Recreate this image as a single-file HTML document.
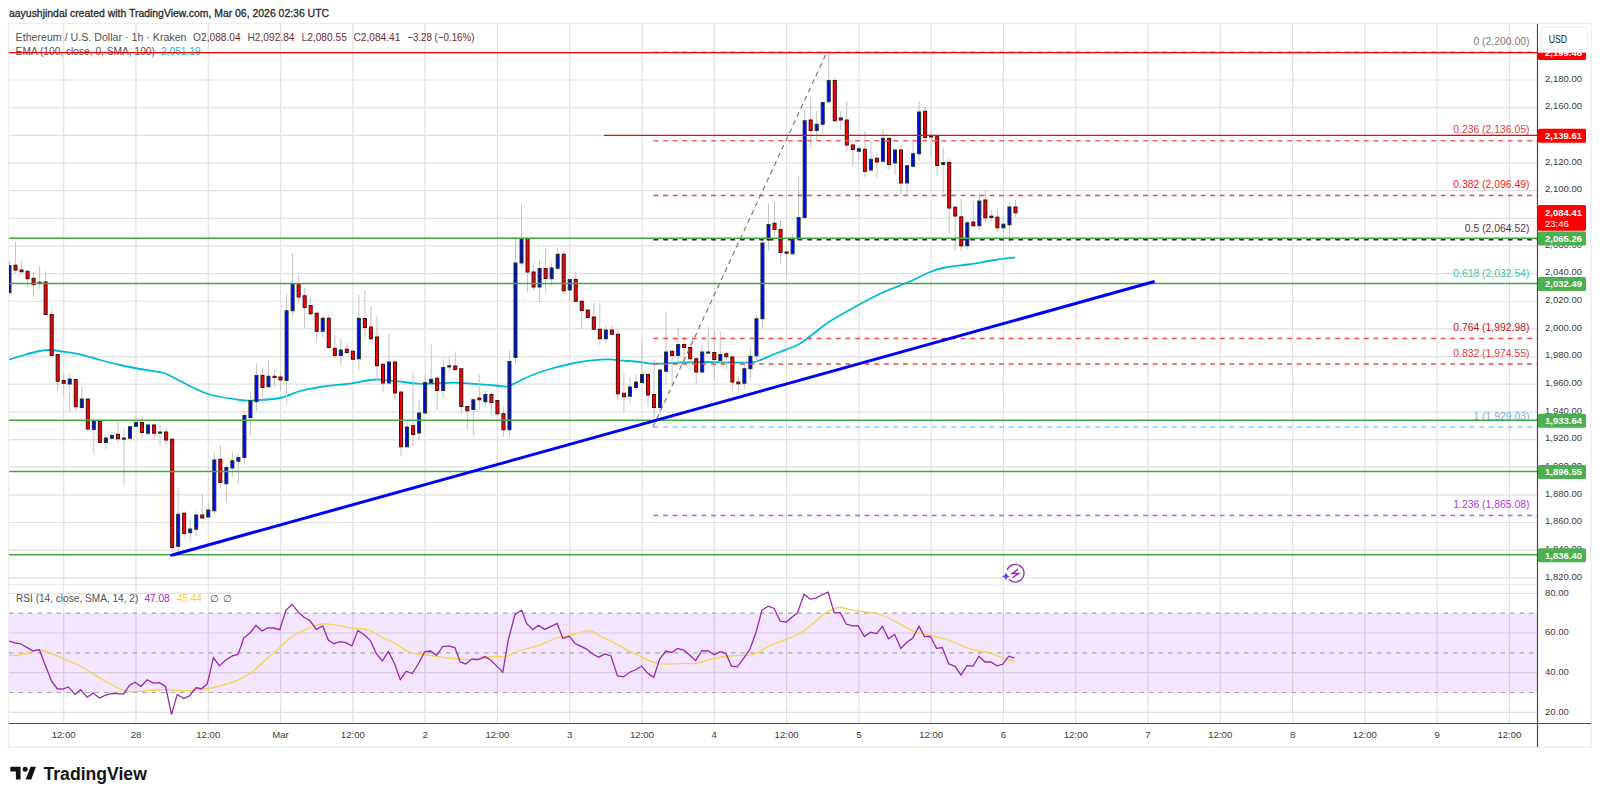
<!DOCTYPE html><html><head><meta charset="utf-8"><title>TradingView ETHUSD</title><style>html,body{margin:0;padding:0;background:#fff;width:1600px;height:800px;overflow:hidden}svg{display:block}text{font-family:"Liberation Sans",sans-serif}</style></head><body>
<svg width="1600" height="800" viewBox="0 0 1600 800">
<defs><clipPath id="cm"><rect x="9" y="24" width="1528.5" height="560"/></clipPath>
<clipPath id="cr"><rect x="9" y="584" width="1528.5" height="139.5"/></clipPath></defs>
<text x="9" y="17" font-size="10.45" fill="#2a2a2a" stroke="#2a2a2a" stroke-width="0.3">aayushjindal created with TradingView.com, Mar 06, 2026 02:36 UTC</text>
<rect x="8.5" y="23.5" width="1582.5" height="723.5" fill="#fff" stroke="#eeeeee" stroke-width="1.5"/>
<path d="M9 577.81H1537.5M9 550.15H1537.5M9 522.50H1537.5M9 494.84H1537.5M9 467.18H1537.5M9 439.53H1537.5M9 411.87H1537.5M9 384.22H1537.5M9 356.56H1537.5M9 328.90H1537.5M9 301.25H1537.5M9 273.59H1537.5M9 245.94H1537.5M9 218.28H1537.5M9 190.62H1537.5M9 162.97H1537.5M9 135.31H1537.5M9 107.66H1537.5M9 80.00H1537.5M9 52.34H1537.5M9 593.30H1537.5M9 633.00H1537.5M9 672.70H1537.5M9 712.40H1537.5M63.70 24V723.5M135.99 24V723.5M208.27 24V723.5M280.56 24V723.5M352.85 24V723.5M425.13 24V723.5M497.42 24V723.5M569.71 24V723.5M641.99 24V723.5M714.28 24V723.5M786.57 24V723.5M858.85 24V723.5M931.14 24V723.5M1003.43 24V723.5M1075.72 24V723.5M1148.00 24V723.5M1220.29 24V723.5M1292.58 24V723.5M1364.86 24V723.5M1437.15 24V723.5M1509.44 24V723.5" stroke="#e0e0e0" stroke-width="1.2" fill="none"/>
<path d="M9 584.7H1537.5" stroke="#e9ecf2" stroke-width="1.2"/>
<rect x="9" y="613.15" width="1528.5" height="79.40" fill="#9b2df5" fill-opacity="0.12"/>
<path d="M9 613.15H1537.5" stroke="#a8a8a8" stroke-width="1.1" stroke-dasharray="4.5 5"/>
<path d="M9 652.85H1537.5" stroke="#a8a8a8" stroke-width="1.1" stroke-dasharray="4.5 5"/>
<path d="M9 692.55H1537.5" stroke="#a8a8a8" stroke-width="1.1" stroke-dasharray="4.5 5"/>
<text y="40.6" font-size="10.2" fill="#505050"><tspan x="15.6" font-size="10.65">Ethereum / U.S. Dollar · 1h · Kraken</tspan><tspan x="193.1">O</tspan><tspan fill="#6e2a2a">2,088.04</tspan><tspan x="247.5">H</tspan><tspan fill="#6e2a2a">2,092.84</tspan><tspan x="301.5">L</tspan><tspan fill="#6e2a2a">2,080.55</tspan><tspan x="353.4">C</tspan><tspan fill="#6e2a2a">2,084.41</tspan><tspan x="407.25" fill="#6e2a2a" font-size="10.4" textLength="67.2" lengthAdjust="spacingAndGlyphs">−3.28 (−0.16%)</tspan></text>
<text x="15.6" y="55.2" font-size="10.2" fill="#505050">EMA (100, close, 0, SMA, 100) <tspan x="160.9" fill="#22b8d8">2,051.19</tspan></text>
<g clip-path="url(#cm)">
<path d="M9.00 359.60C11.50 358.83 18.83 356.43 24.00 355.00C29.17 353.57 35.67 351.83 40.00 351.00C44.33 350.17 45.67 349.83 50.00 350.00C54.33 350.17 61.00 351.27 66.00 352.00C71.00 352.73 74.33 353.07 80.00 354.40C85.67 355.73 93.33 358.23 100.00 360.00C106.67 361.77 113.33 363.50 120.00 365.00C126.67 366.50 132.67 367.67 140.00 369.00C147.33 370.33 157.33 371.00 164.00 373.00C170.67 375.00 172.67 377.50 180.00 381.00C187.33 384.50 198.00 390.83 208.00 394.00C218.00 397.17 232.33 398.93 240.00 400.00C247.67 401.07 247.33 400.73 254.00 400.40C260.67 400.07 272.33 399.57 280.00 398.00C287.67 396.43 293.33 392.83 300.00 391.00C306.67 389.17 315.00 387.90 320.00 387.00C325.00 386.10 325.00 386.17 330.00 385.60C335.00 385.03 343.33 384.53 350.00 383.60C356.67 382.67 365.00 380.67 370.00 380.00C375.00 379.33 375.33 379.37 380.00 379.60C384.67 379.83 391.67 380.73 398.00 381.40C404.33 382.07 412.00 383.23 418.00 383.60C424.00 383.97 428.00 383.77 434.00 383.60C440.00 383.43 448.00 382.60 454.00 382.60C460.00 382.60 464.00 383.20 470.00 383.60C476.00 384.00 484.33 384.53 490.00 385.00C495.67 385.47 500.67 386.30 504.00 386.40C507.33 386.50 505.67 387.33 510.00 385.60C514.33 383.87 523.33 378.77 530.00 376.00C536.67 373.23 543.33 371.00 550.00 369.00C556.67 367.00 563.33 365.40 570.00 364.00C576.67 362.60 583.33 361.37 590.00 360.60C596.67 359.83 605.00 359.43 610.00 359.40C615.00 359.37 615.00 359.97 620.00 360.40C625.00 360.83 634.17 361.44 640.00 362.00C645.83 362.56 647.92 363.67 655.00 363.75C662.08 363.83 673.75 362.79 682.50 362.50C691.25 362.21 699.17 362.00 707.50 362.00C715.83 362.00 725.42 362.42 732.50 362.50C739.58 362.58 745.83 362.71 750.00 362.50C754.17 362.29 753.33 362.71 757.50 361.25C761.67 359.79 768.33 356.46 775.00 353.75C781.67 351.04 791.67 347.92 797.50 345.00C803.33 342.08 804.58 340.21 810.00 336.25C815.42 332.29 822.08 326.38 830.00 321.25C837.92 316.12 848.75 310.29 857.50 305.50C866.25 300.71 874.17 296.33 882.50 292.50C890.83 288.67 899.58 285.92 907.50 282.50C915.42 279.08 923.75 274.50 930.00 272.00C936.25 269.50 938.33 268.79 945.00 267.50C951.67 266.21 961.67 265.50 970.00 264.25C978.33 263.00 987.50 261.12 995.00 260.00C1002.50 258.88 1011.67 257.92 1015.00 257.50" stroke="#00bcd4" stroke-width="1.8" fill="none"/>
<path d="M9.48 261V292.7M15.51 242V273M21.53 260.4V273M27.56 270V287.5M33.58 272.2V296.7M39.60 266V288.8M45.63 271.3V315M51.65 310V355.5M57.68 354.5V391M63.70 372.5V397.5M69.72 374V412M75.75 379.5V410M81.77 386V409M87.80 399V432M93.82 418.75V455M99.84 420V443.75M105.87 435V449.5M111.89 431V439M117.92 421V442.5M123.94 430V485M129.96 425.5V438.75M135.99 417.5V427.5M142.01 417V438.75M148.03 423.75V435M154.06 423.75V438.75M160.08 425V445M166.11 427.5V445.5M172.13 439.25V552.5M178.15 488.75V552.5M184.18 511.25V537.5M190.20 518.75V541.25M196.23 511.25V536.25M202.25 493.75V517.5M208.27 502.5V517.5M214.30 452.5V513.75M220.32 445V488.75M226.35 465V502.5M232.37 452.5V477.5M238.39 453.75V483.75M244.42 411.25V465M250.44 391.25V436.25M256.46 363.75V411.25M262.49 367.5V403.75M268.51 360V387.5M274.54 370V386.25M280.56 372.5V390M286.58 294.5V404.5M292.61 253V316.25M298.63 275V303.75M304.66 287.5V328.75M310.68 297.5V315M316.70 312.5V342.5M322.73 316.25V337.5M328.75 314.5V348.75M334.78 335V357.5M340.80 338.75V365M346.82 343V353.75M352.85 351.25V359.25M358.87 295V371.25M364.89 290V337.5M370.92 306.25V340M376.94 316.25V381.25M382.97 363.75V392.5M388.99 333.75V383.75M395.01 362V400M401.04 392V456.25M407.06 422.5V447.5M413.09 371.25V446.25M419.11 400.5V440M425.13 375V413.75M431.16 344.5V383.75M437.18 376.25V410M443.21 358.75V398.75M449.23 356.75V371.25M455.25 351.5V371M461.28 368.75V414.5M467.30 407V429.5M473.33 398V435.5M479.35 374V410M485.37 390.5V407M491.40 392V416.75M497.42 400.5V416M503.44 407V437M509.47 350V437M515.49 237.5V363.5M521.52 204.5V267.5M527.54 237.5V292.5M533.56 263V290.5M539.59 260V302M545.61 248V293M551.64 262.5V286.25M557.66 247.5V270M563.68 251.25V293.75M569.71 278.75V301.25M575.73 271.25V302.5M581.76 300V328.75M587.78 309.5V318.75M593.80 302.5V330M599.83 302.5V345M605.85 326.25V343.75M611.87 325V335M617.90 330V400M623.92 372.5V411.25M629.95 377.5V403.75M635.97 375V390M641.99 342.5V383.75M648.02 373.75V406.25M654.04 360V420M660.07 368.75V415M666.09 311.25V383.75M672.11 350V383.75M678.14 327.5V365M684.16 336.25V362.5M690.19 343.75V370M696.21 357.5V383.75M702.23 345V372.5M708.26 326.25V353.75M714.28 330V380M720.31 331.25V363.75M726.33 352.5V370M732.35 356.25V390M738.38 377.5V390M744.40 362.5V388.75M750.42 347.5V378.75M756.45 315V362.5M762.47 240V327.5M768.50 203.75V250M774.52 201.25V236.25M780.54 220V263.75M786.57 250V276.25M792.59 233.75V255M798.62 176.25V240M804.64 110V218.75M810.66 97.5V147.5M816.69 111.25V140M822.71 101.25V133.75M828.74 53.75V102.5M834.76 77.5V121.25M840.78 111.25V130M846.81 101.25V151.25M852.83 140V166.25M858.85 146.25V158.75M864.88 131.25V177.5M870.90 141.25V171.25M876.93 152.5V177.5M882.95 128.75V162.5M888.97 137.5V170M895.00 148.75V175M901.02 145V193.75M907.05 165V196.25M913.07 138.75V167.5M919.09 101.25V161.25M925.12 107.5V138.75M931.14 131.25V156.25M937.17 135V176.25M943.19 147.5V192.5M949.21 158.75V233.75M955.24 206.25V251M961.26 199V252M967.29 221V249M973.31 201V227.5M979.33 193V230M985.36 191V222M991.38 210V221M997.40 210V232M1003.43 216V232.5M1009.45 202.5V242M1015.48 200V217" stroke="#c4c4c4" stroke-width="1"/>
<g fill="#0000ff" stroke="#1d3d1d" stroke-width="1"><rect x="7.98" y="265.6" width="3" height="27.10"/><rect x="38.10" y="282.2" width="3" height="1.20"/><rect x="68.22" y="379" width="3" height="5.00"/><rect x="80.27" y="399" width="3" height="8.50"/><rect x="92.32" y="421.25" width="3" height="8.25"/><rect x="104.37" y="438" width="3" height="4.50"/><rect x="110.39" y="435.5" width="3" height="2.75"/><rect x="122.44" y="438" width="3" height="1.20"/><rect x="128.46" y="426.75" width="3" height="11.50"/><rect x="134.49" y="422.5" width="3" height="3.75"/><rect x="146.53" y="425" width="3" height="8.25"/><rect x="158.58" y="432" width="3" height="1.20"/><rect x="176.65" y="514.25" width="3" height="32.00"/><rect x="188.70" y="529" width="3" height="3.75"/><rect x="194.73" y="515" width="3" height="14.25"/><rect x="206.77" y="510" width="3" height="7.00"/><rect x="212.80" y="460" width="3" height="50.75"/><rect x="224.85" y="467.5" width="3" height="16.25"/><rect x="230.87" y="460.75" width="3" height="7.25"/><rect x="236.89" y="457.5" width="3" height="3.75"/><rect x="242.92" y="415.5" width="3" height="42.00"/><rect x="248.94" y="400.5" width="3" height="17.00"/><rect x="254.96" y="375.5" width="3" height="26.25"/><rect x="267.01" y="376.25" width="3" height="10.50"/><rect x="285.08" y="310.75" width="3" height="69.75"/><rect x="291.11" y="283.75" width="3" height="27.00"/><rect x="321.23" y="318.25" width="3" height="13.00"/><rect x="339.30" y="350" width="3" height="5.50"/><rect x="357.37" y="318.25" width="3" height="40.50"/><rect x="387.49" y="362" width="3" height="21.00"/><rect x="405.56" y="427" width="3" height="19.75"/><rect x="417.61" y="413" width="3" height="20.00"/><rect x="423.63" y="382.5" width="3" height="30.50"/><rect x="429.66" y="379.25" width="3" height="3.75"/><rect x="441.71" y="367.5" width="3" height="23.00"/><rect x="447.73" y="365.75" width="3" height="1.20"/><rect x="471.83" y="399.75" width="3" height="9.75"/><rect x="483.87" y="394.5" width="3" height="7.25"/><rect x="507.97" y="361.5" width="3" height="68.25"/><rect x="513.99" y="263" width="3" height="94.50"/><rect x="520.02" y="238.5" width="3" height="24.50"/><rect x="538.09" y="268.5" width="3" height="18.50"/><rect x="550.14" y="268" width="3" height="10.75"/><rect x="556.16" y="254.25" width="3" height="14.00"/><rect x="568.21" y="279.5" width="3" height="10.50"/><rect x="604.35" y="330" width="3" height="8.75"/><rect x="628.45" y="387" width="3" height="9.25"/><rect x="634.47" y="382" width="3" height="5.50"/><rect x="640.49" y="374.5" width="3" height="8.00"/><rect x="658.57" y="370" width="3" height="37.50"/><rect x="664.59" y="352" width="3" height="19.25"/><rect x="676.64" y="344.5" width="3" height="11.00"/><rect x="700.73" y="352" width="3" height="20.00"/><rect x="706.76" y="352" width="3" height="1.20"/><rect x="718.81" y="354.5" width="3" height="6.00"/><rect x="742.90" y="368.75" width="3" height="14.50"/><rect x="748.92" y="356.25" width="3" height="12.50"/><rect x="754.95" y="318.75" width="3" height="37.00"/><rect x="760.97" y="243" width="3" height="75.75"/><rect x="767.00" y="224.5" width="3" height="15.50"/><rect x="791.09" y="239.25" width="3" height="14.50"/><rect x="797.12" y="217.5" width="3" height="21.25"/><rect x="803.14" y="120.75" width="3" height="96.75"/><rect x="815.19" y="124.25" width="3" height="6.25"/><rect x="821.21" y="102.5" width="3" height="21.75"/><rect x="827.24" y="80.5" width="3" height="21.25"/><rect x="857.35" y="148.75" width="3" height="2.50"/><rect x="869.40" y="159.25" width="3" height="10.75"/><rect x="881.45" y="138.25" width="3" height="23.00"/><rect x="893.50" y="150" width="3" height="13.00"/><rect x="905.55" y="165.75" width="3" height="17.25"/><rect x="911.57" y="153.75" width="3" height="12.50"/><rect x="917.59" y="112" width="3" height="41.75"/><rect x="941.69" y="162.5" width="3" height="2.00"/><rect x="965.79" y="222.8" width="3" height="23.00"/><rect x="977.83" y="201" width="3" height="24.80"/><rect x="1001.93" y="224.2" width="3" height="3.60"/><rect x="1007.95" y="207" width="3" height="17.80"/></g>
<g fill="#ff0000" stroke="#4a0808" stroke-width="1"><rect x="14.01" y="265.2" width="3" height="4.80"/><rect x="20.03" y="270" width="3" height="1.70"/><rect x="26.06" y="271.3" width="3" height="7.40"/><rect x="32.08" y="278.3" width="3" height="6.40"/><rect x="44.13" y="282" width="3" height="32.50"/><rect x="50.15" y="314.5" width="3" height="41.00"/><rect x="56.18" y="354.5" width="3" height="26.75"/><rect x="62.20" y="380.5" width="3" height="2.75"/><rect x="74.25" y="379.5" width="3" height="27.25"/><rect x="86.30" y="399" width="3" height="30.00"/><rect x="98.34" y="421.25" width="3" height="21.25"/><rect x="116.42" y="434.25" width="3" height="4.50"/><rect x="140.51" y="422.5" width="3" height="10.00"/><rect x="152.56" y="425" width="3" height="8.25"/><rect x="164.61" y="432" width="3" height="8.00"/><rect x="170.63" y="439.25" width="3" height="108.25"/><rect x="182.68" y="513.25" width="3" height="20.25"/><rect x="200.75" y="515" width="3" height="3.00"/><rect x="218.82" y="459.25" width="3" height="23.25"/><rect x="260.99" y="375.5" width="3" height="12.00"/><rect x="273.04" y="376.25" width="3" height="1.20"/><rect x="279.06" y="377" width="3" height="3.00"/><rect x="297.13" y="283.75" width="3" height="13.25"/><rect x="303.16" y="295.75" width="3" height="11.75"/><rect x="309.18" y="305.5" width="3" height="8.25"/><rect x="315.20" y="313.25" width="3" height="18.00"/><rect x="327.25" y="318.25" width="3" height="29.25"/><rect x="333.28" y="348.25" width="3" height="7.25"/><rect x="345.32" y="349.25" width="3" height="3.25"/><rect x="351.35" y="351.25" width="3" height="8.00"/><rect x="363.39" y="318.5" width="3" height="9.00"/><rect x="369.42" y="327" width="3" height="11.75"/><rect x="375.44" y="337" width="3" height="28.75"/><rect x="381.47" y="364.25" width="3" height="18.75"/><rect x="393.51" y="362" width="3" height="31.00"/><rect x="399.54" y="392" width="3" height="54.75"/><rect x="411.59" y="425.75" width="3" height="8.75"/><rect x="435.68" y="378.25" width="3" height="12.25"/><rect x="453.75" y="366" width="3" height="3.50"/><rect x="459.78" y="368.75" width="3" height="37.75"/><rect x="465.80" y="406.5" width="3" height="4.25"/><rect x="477.85" y="398" width="3" height="1.75"/><rect x="489.90" y="394.5" width="3" height="8.00"/><rect x="495.92" y="400.5" width="3" height="13.25"/><rect x="501.94" y="413.75" width="3" height="16.00"/><rect x="526.04" y="238.5" width="3" height="33.50"/><rect x="532.06" y="272" width="3" height="15.00"/><rect x="544.11" y="268.5" width="3" height="10.00"/><rect x="562.18" y="254.25" width="3" height="36.50"/><rect x="574.23" y="279.5" width="3" height="21.75"/><rect x="580.26" y="301.25" width="3" height="9.25"/><rect x="586.28" y="310" width="3" height="7.50"/><rect x="592.30" y="317" width="3" height="12.25"/><rect x="598.33" y="329.25" width="3" height="9.50"/><rect x="610.37" y="330" width="3" height="4.25"/><rect x="616.40" y="334.25" width="3" height="59.50"/><rect x="622.42" y="393.25" width="3" height="3.50"/><rect x="646.52" y="374.5" width="3" height="20.50"/><rect x="652.54" y="394.5" width="3" height="13.00"/><rect x="670.61" y="351.25" width="3" height="4.25"/><rect x="682.66" y="344.5" width="3" height="3.00"/><rect x="688.69" y="347.5" width="3" height="11.25"/><rect x="694.71" y="358.75" width="3" height="13.25"/><rect x="712.78" y="352.5" width="3" height="7.00"/><rect x="724.83" y="353.75" width="3" height="3.00"/><rect x="730.85" y="357" width="3" height="25.00"/><rect x="736.88" y="382" width="3" height="1.75"/><rect x="773.02" y="223.25" width="3" height="6.25"/><rect x="779.04" y="229.5" width="3" height="23.00"/><rect x="785.07" y="252" width="3" height="1.20"/><rect x="809.16" y="120" width="3" height="10.50"/><rect x="833.26" y="80.5" width="3" height="40.25"/><rect x="839.28" y="118" width="3" height="2.00"/><rect x="845.31" y="120" width="3" height="25.00"/><rect x="851.33" y="145" width="3" height="4.50"/><rect x="863.38" y="149.25" width="3" height="22.00"/><rect x="875.43" y="158.25" width="3" height="3.75"/><rect x="887.47" y="138.25" width="3" height="26.25"/><rect x="899.52" y="150" width="3" height="33.00"/><rect x="923.62" y="111.25" width="3" height="26.25"/><rect x="929.64" y="135.75" width="3" height="1.20"/><rect x="935.67" y="135.75" width="3" height="29.75"/><rect x="947.71" y="162.5" width="3" height="45.50"/><rect x="953.74" y="207.2" width="3" height="8.80"/><rect x="959.76" y="216.8" width="3" height="29.00"/><rect x="971.81" y="222" width="3" height="3.80"/><rect x="983.86" y="200" width="3" height="17.80"/><rect x="989.88" y="216.2" width="3" height="1.20"/><rect x="995.90" y="217.2" width="3" height="10.60"/><rect x="1013.98" y="207" width="3" height="5.80"/></g>
<path d="M653.5 52.34H1537.5" stroke="#f05050" stroke-width="1.5" stroke-dasharray="4.8 4.8"/>
<text x="1529.5" y="45.04" font-size="10.4" fill="#787b86" text-anchor="end">0 (2,200.00)</text>
<path d="M653.5 140.77H1537.5" stroke="#f06060" stroke-width="1.5" stroke-dasharray="4.8 4.8"/>
<text x="1529.5" y="133.47" font-size="10.4" fill="#dc3c3c" text-anchor="end">0.236 (2,136.05)</text>
<path d="M653.5 195.48H1537.5" stroke="#ff4040" stroke-width="1.5" stroke-dasharray="4.8 4.8"/>
<text x="1529.5" y="188.18" font-size="10.4" fill="#f01c1c" text-anchor="end">0.382 (2,096.49)</text>
<path d="M653.5 239.69H1537.5" stroke="#4a2030" stroke-width="1.5" stroke-dasharray="4.8 4.8"/>
<text x="1529.5" y="232.39" font-size="10.4" fill="#5a2d4a" text-anchor="end">0.5 (2,064.52)</text>
<text x="1529.5" y="276.61" font-size="10.4" fill="#43c59e" text-anchor="end">0.618 (2,032.54)</text>
<path d="M653.5 338.61H1537.5" stroke="#f04848" stroke-width="1.5" stroke-dasharray="4.8 4.8"/>
<text x="1529.5" y="331.31" font-size="10.4" fill="#c9141d" text-anchor="end">0.764 (1,992.98)</text>
<path d="M653.5 364.10H1537.5" stroke="#f04848" stroke-width="1.5" stroke-dasharray="4.8 4.8"/>
<text x="1529.5" y="356.80" font-size="10.4" fill="#e03c3c" text-anchor="end">0.832 (1,974.55)</text>
<path d="M653.5 427.04H1537.5" stroke="#8cc8f0" stroke-width="1.5" stroke-dasharray="4.8 4.8"/>
<text x="1529.5" y="419.74" font-size="10.4" fill="#6ab4ea" text-anchor="end">1 (1,929.03)</text>
<path d="M653.5 515.47H1537.5" stroke="#b45ee0" stroke-width="1.5" stroke-dasharray="4.8 4.8"/>
<text x="1529.5" y="508.17" font-size="10.4" fill="#a63cd6" text-anchor="end">1.236 (1,865.08)</text>
<path d="M9 52.61H1537.5" stroke="#ff0000" stroke-width="1.4"/>
<path d="M604 135.40H1537.5" stroke="#ff0000" stroke-width="1.4"/>
<path d="M9 238.21H1537.5" stroke="#40a840" stroke-width="1.4"/>
<path d="M9 283.53H1537.5" stroke="#40a840" stroke-width="1.4"/>
<path d="M9 420.22H1537.5" stroke="#40a840" stroke-width="1.4"/>
<path d="M9 471.50H1537.5" stroke="#40a840" stroke-width="1.4"/>
<path d="M9 554.68H1537.5" stroke="#40a840" stroke-width="1.4"/>
<path d="M653 427L827 52" stroke="#7a7a7a" stroke-width="1.2" stroke-dasharray="5 4"/>
<path d="M171.5 555.2L1153.5 281.8" stroke="#0000ff" stroke-width="3" stroke-linecap="round"/>
</g>
<g transform="translate(1015.25 573.25)"><circle r="11" fill="#fff"/><path d="M-8.16 -3.3A8.8 8.8 0 1 1 -6.22 6.22" stroke="#9c27b0" stroke-width="1.3" fill="none"/><path d="M2.75 -4L-3 0.25H3.25L-2.75 4.5" stroke="#9c27b0" stroke-width="1.5" fill="none" stroke-linejoin="miter"/><path d="M-9.25 -0.9Q-8.6 2.6 -5.1 3.25Q-8.6 3.9 -9.25 7.4Q-9.9 3.9 -13.4 3.25Q-9.9 2.6 -9.25 -0.9Z" fill="#6a3cff"/></g>
<g clip-path="url(#cr)">
<path d="M9.00 655.40C10.93 655.33 16.63 655.69 20.60 655.00C24.57 654.31 29.67 652.12 32.80 651.25C35.93 650.38 36.43 649.44 39.40 649.75C42.37 650.06 46.54 651.60 50.60 653.10C54.66 654.60 58.75 656.56 63.75 658.75C68.75 660.94 75.29 663.44 80.60 666.25C85.91 669.06 90.28 672.48 95.60 675.60C100.92 678.73 107.81 682.50 112.50 685.00C117.19 687.50 120.00 689.50 123.75 690.60C127.50 691.70 130.62 691.60 135.00 691.60C139.38 691.60 145.00 690.98 150.00 690.60C155.00 690.22 160.62 689.30 165.00 689.30C169.38 689.30 171.88 690.38 176.25 690.60C180.62 690.82 186.25 690.91 191.25 690.60C196.25 690.29 201.88 689.43 206.25 688.75C210.62 688.07 212.50 687.81 217.50 686.50C222.50 685.19 230.62 683.18 236.25 680.90C241.88 678.62 246.88 675.87 251.25 672.80C255.62 669.73 258.12 666.40 262.50 662.50C266.88 658.60 272.50 653.77 277.50 649.40C282.50 645.02 288.54 639.17 292.50 636.25C296.46 633.33 297.92 633.57 301.25 631.90C304.58 630.23 308.91 627.60 312.50 626.25C316.09 624.90 319.68 624.11 322.80 623.80C325.93 623.49 327.97 623.99 331.25 624.40C334.53 624.81 339.06 625.63 342.50 626.25C345.94 626.87 348.15 627.62 351.90 628.10C355.65 628.58 361.57 628.47 365.00 629.10C368.43 629.73 369.68 630.50 372.50 631.90C375.32 633.30 378.77 635.94 381.90 637.50C385.02 639.06 388.44 639.85 391.25 641.25C394.06 642.65 396.25 644.34 398.75 645.90C401.25 647.46 403.75 649.35 406.25 650.60C408.75 651.85 410.62 652.71 413.75 653.40C416.88 654.09 420.94 654.22 425.00 654.75C429.06 655.28 433.73 655.98 438.10 656.60C442.48 657.23 446.56 658.03 451.25 658.50C455.94 658.97 461.56 659.25 466.25 659.40C470.94 659.55 475.65 659.77 479.40 659.40C483.15 659.03 485.63 657.73 488.75 657.20C491.87 656.68 495.29 656.32 498.10 656.25C500.91 656.18 502.78 657.42 505.60 656.80C508.42 656.17 511.56 653.84 515.00 652.50C518.44 651.16 522.50 649.85 526.25 648.75C530.00 647.65 533.75 647.15 537.50 645.90C541.25 644.65 545.32 642.65 548.75 641.25C552.18 639.85 554.66 638.50 558.10 637.50C561.54 636.50 565.75 636.03 569.40 635.25C573.05 634.47 576.98 633.51 580.00 632.80C583.02 632.09 585.32 631.15 587.50 631.00C589.68 630.85 590.92 630.97 593.10 631.90C595.28 632.83 597.78 635.13 600.60 636.60C603.42 638.07 606.25 638.83 610.00 640.70C613.75 642.57 618.73 645.52 623.10 647.80C627.48 650.08 630.93 651.90 636.25 654.40C641.57 656.90 649.38 661.18 655.00 662.80C660.62 664.42 665.00 664.00 670.00 664.10C675.00 664.20 680.62 663.52 685.00 663.40C689.38 663.28 691.88 664.12 696.25 663.40C700.62 662.68 706.25 660.29 711.25 659.10C716.25 657.91 721.56 656.88 726.25 656.25C730.94 655.62 735.65 655.46 739.40 655.30C743.15 655.14 745.63 655.77 748.75 655.30C751.87 654.83 754.35 654.22 758.10 652.50C761.85 650.78 766.56 647.18 771.25 645.00C775.94 642.82 781.56 641.27 786.25 639.40C790.94 637.52 794.71 636.57 799.40 633.75C804.09 630.93 810.03 626.00 814.40 622.50C818.77 619.00 822.48 615.03 825.60 612.75C828.72 610.47 830.60 609.67 833.10 608.80C835.60 607.92 837.78 607.40 840.60 607.50C843.42 607.60 846.87 608.77 850.00 609.40C853.13 610.02 855.98 610.71 859.40 611.25C862.82 611.79 866.90 612.07 870.50 612.65C874.10 613.23 876.92 613.33 881.00 614.75C885.08 616.17 889.75 618.52 895.00 621.20C900.25 623.88 907.83 628.72 912.50 630.85C917.17 632.98 919.50 633.12 923.00 634.00C926.50 634.88 929.42 635.17 933.50 636.10C937.58 637.03 943.42 638.28 947.50 639.60C951.58 640.92 954.50 642.54 958.00 644.00C961.50 645.46 965.00 647.18 968.50 648.35C972.00 649.52 975.50 650.24 979.00 651.00C982.50 651.76 986.00 651.94 989.50 652.90C993.00 653.86 997.08 655.67 1000.00 656.75C1002.92 657.83 1004.52 658.67 1007.00 659.40C1009.48 660.12 1013.58 660.82 1014.90 661.10" stroke="#f7d54a" stroke-width="1.3" fill="none"/>
<path d="M9 641L15 642.8L20.6 643.75L26.25 647.1L32.8 650.9L39.4 649.75L45 664.4L51.6 681.25L57.2 688.75L62.8 689.1L68.4 686.9L75 694.4L80.6 689.7L87.2 697.2L93.2 693.1L99.4 698.1L105 695.3L111.6 693.4L118.1 693.8L123.75 693.8L129.4 685.4L135 682.2L141 686.3L147.2 679.9L153.4 683.1L159.4 682.75L165.6 686.5L171.6 714.6L177.2 694.4L183.75 698.5L189.4 695.9L196 687.8L201.6 688.75L207.2 684.1L213.4 657.8L219.4 665.9L226 659.7L232.5 655.9L238.1 654.4L243.75 638.1L250.3 632.5L256 625.4L262.1 631L267.75 627.8L273.75 628L279.75 629.7L286 610L292.1 604.4L298.4 612.2L304.1 617.25L310.25 621L316.25 629.4L322.8 625.9L328.4 640.3L334.1 643.7L339.7 641.6L345.7 642.6L351.9 645.9L357.9 630.4L364.1 634.7L370.25 640.3L376.25 653.4L382.25 660.9L388.4 651.6L394.6 663.75L400.25 679.7L406.25 671.25L412.25 673.5L418.4 663.75L424.6 651.9L430.6 651L436.6 655.3L442.8 646.5L449 645.9L455 647.8L460.25 661.9L465.9 664.1L471.9 659.1L477.9 659.5L485 656.6L490.6 660L496.25 665.6L502.8 672.2L508.4 639.4L515 614.4L521.6 610.3L526.6 623.4L532.8 629.6L538.4 625.3L544.6 629.4L550.6 626.6L557.2 623.4L562.8 638.4L569.4 636.2L575 643.5L580 645.9L586.6 649.1L592.75 654L598.75 657.2L604.9 654L610.9 655.9L617.5 675.9L623.5 676.9L629.7 672.2L635.7 669.75L641.5 666L647.5 673.1L653.7 677.4L659.7 659.1L665.9 651L671.9 652.5L677.5 648.4L683.7 650.1L689.7 655.3L695.7 660.4L701.9 650.6L708.1 651L714.25 654.75L720.25 651.6L725.9 653.4L731.5 666.2L737.5 666.9L743.7 658.1L749.7 649.7L755.9 632.8L761.9 610.3L768.1 606.2L774.1 608.4L780.25 621.2L786.25 622.1L791.9 617.25L797.5 612.75L804.1 594.4L810.25 599.1L815.9 598.1L821.9 594.75L828.1 592.1L834.1 612.6L840.25 612.6L846.25 624L852.4 625.9L858.1 625.7L864.4 636.6L870.5 632.25L876.6 633.65L882.4 626.5L888.5 638.9L894.65 634.5L900.8 648.35L906.9 642.2L912.85 638L919 626.1L924.4 636.6L930.35 636.3L936.5 648.35L942.25 647.5L948.7 663.75L955 666.4L961 675.1L967.1 665.5L972.9 666.4L979 656.2L985.1 662L990.9 662L997 665.85L1002.6 664.3L1008.75 656.2L1014.5 658.15" stroke="#9c27b0" stroke-width="1.3" fill="none"/>
</g>
<text x="16" y="601.8" font-size="10.1" fill="#505050">RSI (14, close, SMA, 14, 2) <tspan x="144.4" fill="#9c27b0">47.08</tspan><tspan x="176.7" fill="#f5d040">45.44</tspan><tspan x="209.7">∅</tspan><tspan x="222.9">∅</tspan></text>
<path d="M1537.5 24V747" stroke="#4a4a4a" stroke-width="1.2"/>
<path d="M9 723.5H1591" stroke="#4a4a4a" stroke-width="1.2"/>
<g font-size="9.5" fill="#3a3a3a"><text x="1545" y="579.61">1,820.00</text><text x="1545" y="551.95">1,840.00</text><text x="1545" y="524.30">1,860.00</text><text x="1545" y="496.64">1,880.00</text><text x="1545" y="468.98">1,900.00</text><text x="1545" y="441.33">1,920.00</text><text x="1545" y="413.67">1,940.00</text><text x="1545" y="386.02">1,960.00</text><text x="1545" y="358.36">1,980.00</text><text x="1545" y="330.70">2,000.00</text><text x="1545" y="303.05">2,020.00</text><text x="1545" y="275.39">2,040.00</text><text x="1545" y="247.74">2,060.00</text><text x="1545" y="220.08">2,080.00</text><text x="1545" y="192.42">2,100.00</text><text x="1545" y="164.77">2,120.00</text><text x="1545" y="137.11">2,140.00</text><text x="1545" y="109.46">2,160.00</text><text x="1545" y="81.80">2,180.00</text><text x="1545" y="595.70">80.00</text><text x="1545" y="635.40">60.00</text><text x="1545" y="675.10">40.00</text><text x="1545" y="714.80">20.00</text></g>
<rect x="1538" y="46.00" width="48" height="14" rx="1.5" fill="#ff0000"/><text x="1545" y="56.40" font-size="9.5" fill="#fff" font-weight="bold">2,199.48</text>
<rect x="1538" y="128.85" width="48" height="14" rx="1.5" fill="#ff0000"/><text x="1545" y="139.25" font-size="9.5" fill="#fff" font-weight="bold">2,139.61</text>
<rect x="1538" y="205" width="48" height="25.8" rx="1.5" fill="#ff0000"/><text x="1545" y="215.6" font-size="9.5" fill="#fff" font-weight="bold">2,084.41</text><text x="1545" y="226.6" font-size="9.5" fill="#fff">23:46</text>
<rect x="1538" y="231.60" width="48" height="14" rx="1.5" fill="#4caf50"/><text x="1545" y="242.00" font-size="9.5" fill="#fff" font-weight="bold">2,065.26</text>
<rect x="1538" y="276.98" width="48" height="14" rx="1.5" fill="#4caf50"/><text x="1545" y="287.38" font-size="9.5" fill="#fff" font-weight="bold">2,032.49</text>
<rect x="1538" y="413.67" width="48" height="14" rx="1.5" fill="#4caf50"/><text x="1545" y="424.07" font-size="9.5" fill="#fff" font-weight="bold">1,933.64</text>
<rect x="1538" y="464.95" width="48" height="14" rx="1.5" fill="#4caf50"/><text x="1545" y="475.35" font-size="9.5" fill="#fff" font-weight="bold">1,896.55</text>
<rect x="1538" y="548.13" width="48" height="14" rx="1.5" fill="#4caf50"/><text x="1545" y="558.53" font-size="9.5" fill="#fff" font-weight="bold">1,836.40</text>
<rect x="1538.1" y="24.5" width="52.5" height="28.2" fill="#fff"/><rect x="1541" y="27.5" width="46.5" height="22" rx="3" fill="#fff" stroke="#ececec" stroke-width="1"/><text x="1548.8" y="42.6" font-size="10.8" fill="#131722" textLength="18.1" lengthAdjust="spacingAndGlyphs">USD</text>
<g font-size="9.6" fill="#3a3a3a" text-anchor="middle"><text x="63.70" y="738">12:00</text><text x="135.99" y="738">28</text><text x="208.27" y="738">12:00</text><text x="280.56" y="738">Mar</text><text x="352.85" y="738">12:00</text><text x="425.13" y="738">2</text><text x="497.42" y="738">12:00</text><text x="569.71" y="738">3</text><text x="641.99" y="738">12:00</text><text x="714.28" y="738">4</text><text x="786.57" y="738">12:00</text><text x="858.85" y="738">5</text><text x="931.14" y="738">12:00</text><text x="1003.43" y="738">6</text><text x="1075.72" y="738">12:00</text><text x="1148.00" y="738">7</text><text x="1220.29" y="738">12:00</text><text x="1292.58" y="738">8</text><text x="1364.86" y="738">12:00</text><text x="1437.15" y="738">9</text><text x="1509.44" y="738">12:00</text></g>
<g fill="#131313"><path d="M10.3 766.7H20.6V779.5H15.9V771.6H10.3Z"/><circle cx="25.15" cy="769.2" r="2.5"/><path d="M30.6 766.8H35.9L31.25 779.5H25.6Z"/></g>
<text x="43.5" y="779.6" font-size="17.6" font-weight="bold" fill="#131313">TradingView</text>
</svg></body></html>
